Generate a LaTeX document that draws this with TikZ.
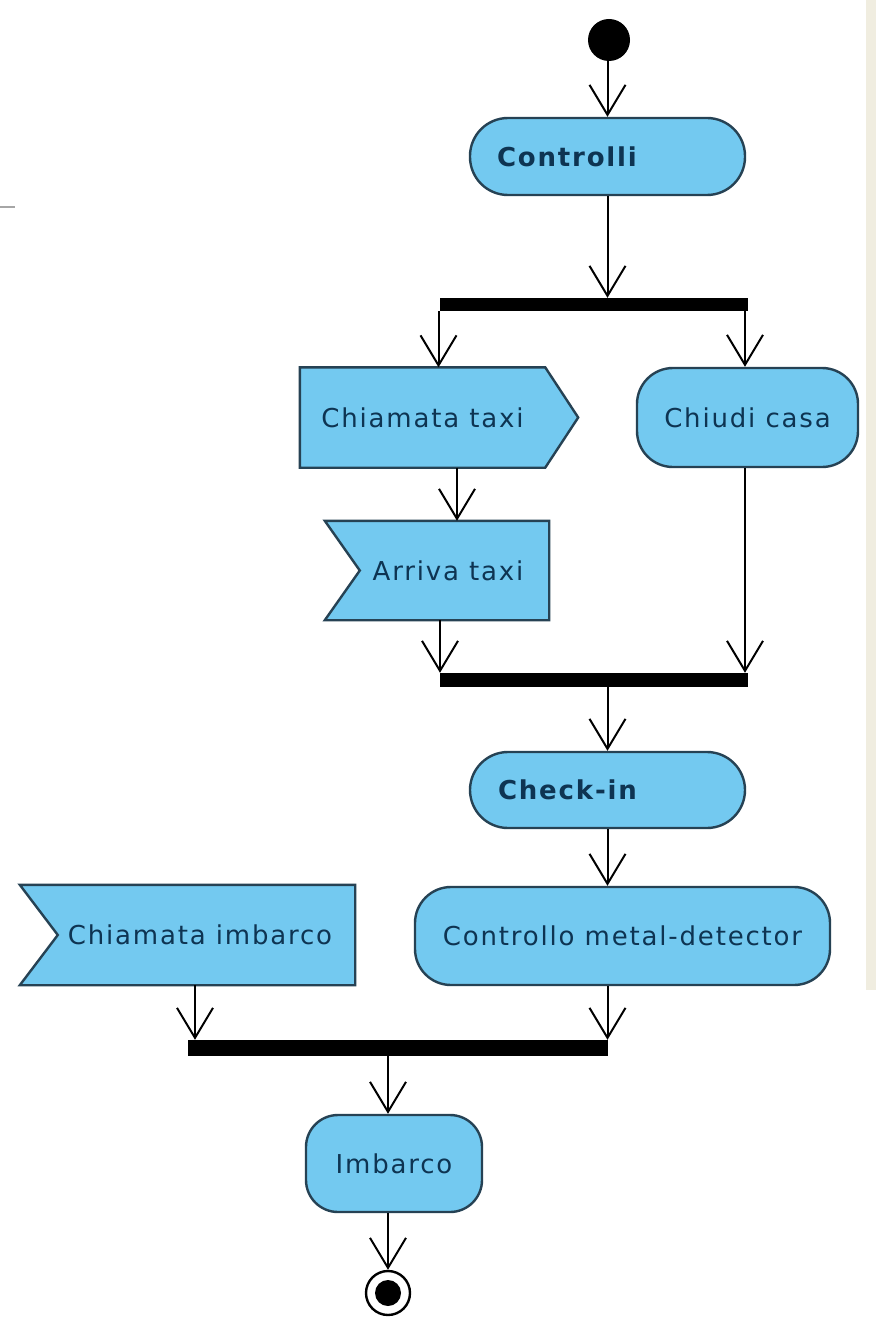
\documentclass[tikz,border=0pt]{standalone}
\usepackage{fontspec}
\setmainfont{DejaVu Sans}[LetterSpace=7]
\usetikzlibrary{arrows.meta,calc}
\definecolor{actfill}{RGB}{115,201,240}
\definecolor{actline}{RGB}{38,66,84}
\definecolor{acttext}{RGB}{14,52,82}
\definecolor{sidestrip}{RGB}{240,237,224}
\pgfdeclarelayer{bg}
\pgfsetlayers{bg,main}
\begin{document}
\begin{tikzpicture}[x=1pt,y=-1pt,
  flow/.style={draw=black, line width=2pt,
    -{Straight Barb[length=30pt,width=36pt,line width=2pt]}},
  actbox/.style={draw=actline, fill=actfill, line width=2.4pt,
    rounded corners=#1, text=acttext, inner sep=0pt,
    font=\fontsize{26}{30}\selectfont},
  sigbox/.style={inner sep=0pt, text=acttext,
    font=\fontsize{26}{30}\selectfont},
  sigline/.style={draw=actline, fill=actfill, line width=2.4pt, line join=miter},
  bar/.style={fill=black, draw=none, inner sep=0pt},
]
% page frame
\useasboundingbox (0,0) rectangle (876,1324);
\begin{pgfonlayer}{bg}
  \fill[white] (0,0) rectangle (876,1324);
  \fill[sidestrip] (866,0) rectangle (876,990);
  \draw[gray!70, line width=2pt] (0,207) -- (15,207);
\end{pgfonlayer}

% initial and final states
\node[circle, fill=black, minimum size=42pt, inner sep=0pt] (start) at (609,40) {};
\node[circle, draw=black, fill=white, line width=2.4pt, minimum size=44pt, inner sep=0pt] (end) at (388,1293) {};
\fill[black] (end.center) circle (13pt);

% actions
\node[actbox=38pt, font=\fontsize{26}{30}\selectfont\bfseries, align=left,
      text width=221pt, inner xsep=27pt, minimum height=77pt] (controlli) at (607.5,156.5) {Controlli};
\node[actbox=36pt, minimum width=221pt, minimum height=99pt] (chiudi) at (747.5,417.5) {Chiudi casa};
\node[actbox=38pt, font=\fontsize{26}{30}\selectfont\bfseries, align=left,
      text width=219pt, inner xsep=28pt, minimum height=76pt] (checkin) at (607.5,790) {Check-in};
\node[actbox=36pt, minimum width=415pt, minimum height=98pt] (metal) at (622.5,936) {Controllo metal-detector};
\node[actbox=32pt, minimum width=176pt, minimum height=97pt] (imbarco) at (394,1163.5) {Imbarco};

% signal actions (outlines drawn behind the text)
\node[sigbox, minimum width=245pt, minimum height=100pt] (chtaxi) at (422.5,417.5) {Chiamata taxi};
\node[sigbox, minimum width=224pt, minimum height=99pt] (arriva) at (437,570.5) {\hspace*{22pt}Arriva taxi};
\node[sigbox, minimum width=335pt, minimum height=100pt] (imbcall) at (187.5,935) {\hspace*{25pt}Chiamata imbarco};
\begin{pgfonlayer}{bg}
  \path[sigline] (chtaxi.north west) -- (chtaxi.north east) -- ([xshift=33pt]chtaxi.east)
    -- (chtaxi.south east) -- (chtaxi.south west) -- cycle;
  \path[sigline] (arriva.north west) -- (arriva.north east) -- (arriva.south east)
    -- (arriva.south west) -- ([xshift=35pt]arriva.west) -- cycle;
  \path[sigline] (imbcall.north west) -- (imbcall.north east) -- (imbcall.south east)
    -- (imbcall.south west) -- ([xshift=38pt]imbcall.west) -- cycle;
\end{pgfonlayer}

% fork / join bars
\node[bar, minimum width=308pt, minimum height=13pt] (bar1) at (594,304.5) {};
\node[bar, minimum width=308pt, minimum height=14pt] (bar2) at (594,680) {};
\node[bar, minimum width=420pt, minimum height=16pt] (bar3) at (398,1048) {};

% control flows
\draw[flow] ([xshift=-1.5pt]start.south) -- ([xshift=-1.5pt]start.south |- controlli.north);
\draw[flow] (controlli.south) -- (controlli.south |- bar1.north);
\draw[flow] ([xshift=16pt]chtaxi.north |- bar1.south) -- ([xshift=16pt]chtaxi.north);
\draw[flow] ([xshift=-2.5pt]chiudi.north |- bar1.south) -- ([xshift=-2.5pt]chiudi.north);
\draw[flow] ([xshift=34.5pt]chtaxi.south) -- ([xshift=34.5pt]chtaxi.south |- arriva.north);
\draw[flow] ([xshift=3pt]arriva.south) -- ([xshift=3pt]arriva.south |- bar2.north);
\draw[flow] ([xshift=-2.5pt]chiudi.south) -- ([xshift=-2.5pt]chiudi.south |- bar2.north);
\draw[flow] (checkin.north |- bar2.south) -- (checkin.north);
\draw[flow] (checkin.south) -- (checkin.south |- metal.north);
\draw[flow] ([xshift=-15pt]metal.south) -- ([xshift=-15pt]metal.south |- bar3.north);
\draw[flow] ([xshift=7.5pt]imbcall.south) -- ([xshift=7.5pt]imbcall.south |- bar3.north);
\draw[flow] (end.north |- bar3.south) -- (end.north |- imbarco.north);
\draw[flow] (end.north |- imbarco.south) -- (end.north);
\end{tikzpicture}
\end{document}
